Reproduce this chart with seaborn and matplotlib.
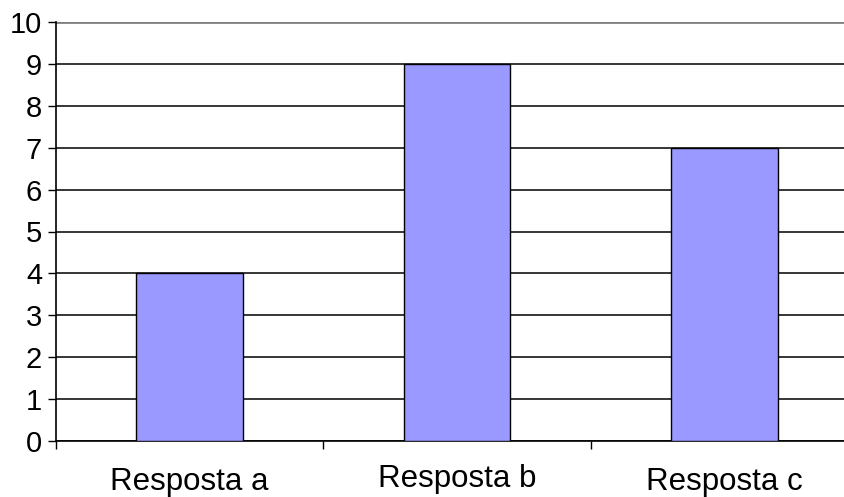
import matplotlib
matplotlib.use("Agg")
import matplotlib.pyplot as plt
import matplotlib.transforms as mtransforms
import seaborn as sns
import pandas as pd
from matplotlib.ticker import FixedLocator

categories = ["Resposta a", "Resposta b", "Resposta c"]
values = [4, 9, 7]
y_ticks = list(range(0, 11))

df = pd.DataFrame({"resposta": categories, "valor": values})

sns.set_theme(style="white")
plt.rcParams["font.family"] = ["Liberation Sans", "DejaVu Sans"]

fig = plt.figure(figsize=(8.44, 4.97), dpi=100)
ax = fig.add_axes([56 / 844, 56 / 497, 802 / 844, 419 / 497])

sns.barplot(data=df, x="resposta", y="valor", ax=ax, width=0.4,
            color="#9999FF", saturation=1, edgecolor="black", linewidth=1.0,
            zorder=3)

ax.set_xlim(-0.5, 2.5)
ax.set_ylim(0, 10)
ax.set_yticks(y_ticks)
ax.set_xlabel("")
ax.set_ylabel("")

# horizontal grid lines; the top one is grey
ax.yaxis.grid(True, color="black", linewidth=1.1, zorder=0)
ax.xaxis.grid(False)
ax.set_axisbelow(True)
gls = ax.get_ygridlines()
gls[-1].set_color("#808080")
gls[-1].set_linewidth(2.0)

for side in ["top", "right"]:
    ax.spines[side].set_visible(False)
for side in ["left", "bottom"]:
    ax.spines[side].set_visible(True)
    ax.spines[side].set_color("black")
    ax.spines[side].set_linewidth(1.2)

# category boundary ticks on the x axis
ax.xaxis.set_minor_locator(FixedLocator([-0.5, 0.5, 1.5, 2.5]))
ax.tick_params(axis="x", which="major", length=0, pad=18.5, labelsize=22.5,
               colors="black")
ax.tick_params(axis="x", which="minor", bottom=True, length=6, width=1.0,
               color="black", direction="out")
ax.tick_params(axis="y", which="major", left=True, length=6, width=1.0,
               color="black", direction="out", pad=4, labelsize=21,
               labelcolor="black")

# the middle category label sits slightly higher
mid = ax.get_xticklabels()[1]
mid.set_transform(mid.get_transform() +
                  mtransforms.ScaledTranslation(0, 3 / 100, fig.dpi_scale_trans))

fig.savefig("out.png", dpi=100, facecolor="white")
